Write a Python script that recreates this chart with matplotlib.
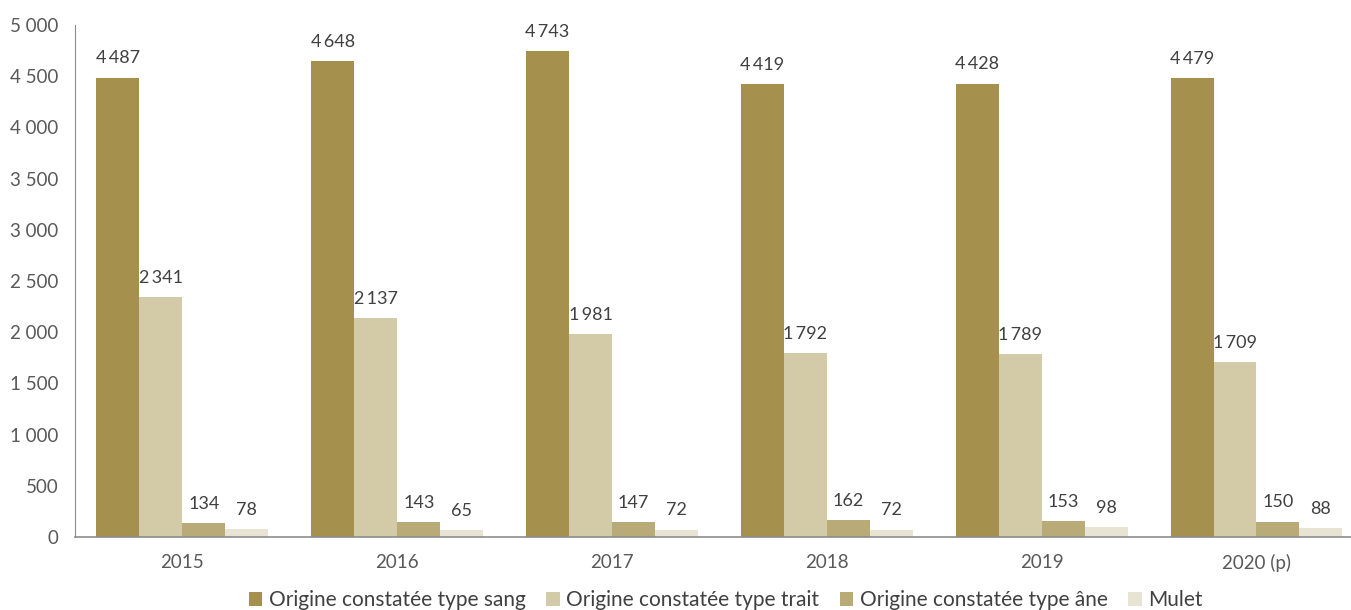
import matplotlib.pyplot as plt
import numpy as np

years = ["2015", "2016", "2017", "2018", "2019", "2020 (p)"]
sang = [4487, 4648, 4743, 4419, 4428, 4479]
trait = [2341, 2137, 1981, 1792, 1789, 1709]
ane = [134, 143, 147, 162, 153, 150]
mulet = [78, 65, 72, 72, 98, 88]

series = [
    ("Origine constatée type sang", sang, "#a5914d"),
    ("Origine constatée type trait", trait, "#d3caa7"),
    ("Origine constatée type âne", ane, "#b9ab78"),
    ("Mulet", mulet, "#e8e4d4"),
]

plt.rcParams['font.family'] = ['Lato', 'DejaVu Sans']
txt = "#404040"

fig = plt.figure(figsize=(13.51, 6.10), dpi=100)
ax = fig.add_axes([75 / 1351, 1 - 537 / 610, 1 - 75 / 1351, (537 - 25) / 610])

x = np.arange(len(years))
w = 0.2
for i, (name, vals, col) in enumerate(series):
    pos = x - 0.3 + i * w
    ax.bar(pos, vals, width=w, color=col, label=name)
    for p, v in zip(pos, vals):
        s = f"{v:,}".replace(",", "\u2009")
        ax.text(p, v + 110, s, ha="center", va="bottom", fontsize=13, color=txt)

ax.set_xlim(-0.5, 5.44)
ax.set_ylim(0, 5000)
ax.set_yticks(range(0, 5001, 500))
ax.set_yticklabels([f"{v:,}".replace(",", " ") for v in range(0, 5001, 500)])
ax.set_xticks(x)
ax.set_xticklabels(years)
ax.tick_params(length=0, labelsize=13.5, labelcolor="#595959")
ax.tick_params(axis="x", pad=12)
ax.tick_params(axis="y", pad=12)
for s in ["top", "right"]:
    ax.spines[s].set_visible(False)
ax.spines["left"].set_color("#8c8c8c")
ax.spines["bottom"].set_color("#8c8c8c")
ax.spines["bottom"].set_linewidth(1.2)

ax.legend(loc="center", bbox_to_anchor=(0.51, -0.123), ncol=4, frameon=False,
          fontsize=15, handlelength=0.65, handleheight=0.65, handletextpad=0.3,
          columnspacing=1.0, labelcolor="#404040", borderpad=0)

fig.savefig("out.png", dpi=100)
